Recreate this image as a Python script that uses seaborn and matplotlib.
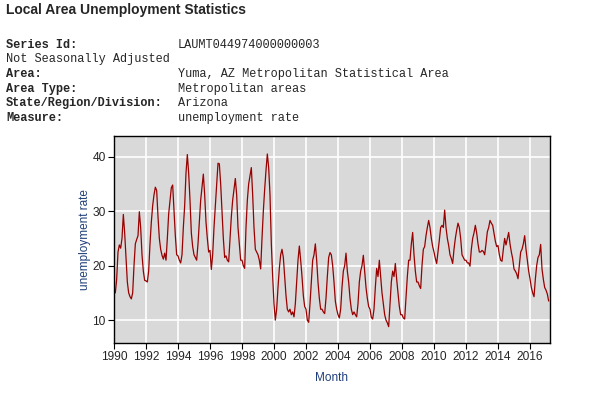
import numpy as np
import pandas as pd
import matplotlib
matplotlib.use("Agg")
import matplotlib.pyplot as plt
import seaborn as sns

# monthly unemployment rate, Yuma AZ MSA
rate_1990s = [
    15.2, 15.0, 17.5, 22.5, 23.8, 23.2, 25.0, 29.4, 26.0, 21.5, 17.0, 15.0,
    14.3, 13.9, 15.0, 20.0, 24.0, 24.8, 25.5, 29.9, 27.0, 22.0, 19.0, 17.3,
    17.2, 17.0, 19.0, 24.0, 28.0, 31.0, 33.0, 34.4, 33.8, 29.0, 25.0, 23.0,
    21.9, 21.2, 22.3, 21.0, 25.0, 29.5, 32.0, 34.3, 34.8, 30.0, 25.5, 22.0,
    21.8, 21.0, 20.5, 22.0, 27.0, 31.0, 37.0, 40.4, 37.0, 32.0, 26.0, 23.5,
    22.0, 21.5, 21.0, 24.0, 28.0, 32.0, 34.5, 36.8, 33.0, 28.0, 25.0, 22.5,
    22.8, 19.3, 22.0, 27.0, 31.0, 35.0, 38.8, 38.7, 35.0, 30.0, 25.0, 21.5,
    21.8, 21.0, 20.7, 25.0, 29.0, 32.0, 34.0, 36.0, 33.0, 27.0, 24.0, 21.0,
    21.0, 20.0, 19.5, 27.0, 32.0, 35.0, 36.5, 38.0, 33.0, 27.0, 23.0, 22.5,
    22.0, 21.0, 19.4, 25.0, 30.0, 34.0, 37.5, 40.5, 38.0, 33.0, 24.0, 18.0,
]
rate_2000s = [
    13.0, 10.0, 12.0, 16.0, 19.5, 22.0, 23.0, 21.5, 18.0, 14.5, 12.0, 11.5,
    12.0, 11.0, 11.5, 10.6, 13.0, 17.0, 21.0, 23.6, 21.0, 18.0, 14.5, 12.5,
    12.0, 10.0, 9.6, 13.0, 17.0, 21.0, 22.0, 24.0, 21.0, 17.0, 14.0, 12.0,
    12.0, 11.5, 11.2, 14.0, 18.0, 21.5, 22.4, 22.0, 20.0, 17.0, 13.5, 12.0,
    11.0, 10.4, 12.0, 16.0, 19.0, 20.0, 22.3, 19.0, 17.0, 14.0, 12.0, 11.0,
    11.5, 11.0, 10.6, 13.0, 17.0, 19.0, 20.0, 21.9, 19.0, 16.0, 14.0, 12.5,
    12.0, 10.5, 10.2, 12.0, 16.0, 19.5, 18.0, 21.0, 18.0, 15.0, 13.0, 11.0,
    10.0, 9.5, 8.8, 13.0, 17.0, 19.0, 18.0, 20.4, 17.5, 15.0, 12.5, 11.0,
    11.0, 10.4, 10.2, 14.0, 18.0, 21.0, 21.0, 24.0, 26.1, 22.0, 19.0, 17.0,
    17.0, 16.3, 15.8, 20.0, 23.0, 23.5, 25.5, 27.0, 28.3, 27.0, 25.0, 23.5,
]
rate_2010s = [
    22.5, 21.3, 20.4, 22.5, 24.7, 27.0, 27.4, 27.0, 30.2, 27.0, 25.0, 23.7,
    22.0, 21.3, 20.4, 23.0, 25.0, 26.5, 27.8, 27.0, 25.0, 22.0, 21.5, 21.0,
    21.0, 20.5, 20.5, 19.9, 23.0, 25.0, 26.0, 27.4, 26.0, 24.0, 22.5, 22.5,
    22.8, 22.6, 22.0, 24.0, 26.2, 27.0, 28.3, 27.8, 27.4, 26.0, 24.5, 23.5,
    23.7, 22.0, 21.0, 20.8, 23.0, 25.0, 23.8, 25.0, 26.1, 24.0, 22.5, 21.3,
    19.4, 19.0, 18.5, 17.6, 20.0, 22.5, 23.0, 24.0, 25.5, 23.0, 21.0, 19.0,
    17.6, 16.0, 15.0, 14.3, 17.5, 20.0, 21.5, 22.0, 23.9, 19.4, 17.5, 16.0,
    15.5, 14.8, 13.5,
]

title = "Local Area Unemployment Statistics"
info_labels = ["Series Id:", "Not Seasonally Adjusted", "Area:", "Area Type:",
               "State/Region/Division:", "Measure:"]
info_values = ["LAUMT044974000000003", "", "Yuma, AZ Metropolitan Statistical Area",
               "Metropolitan areas", "Arizona", "unemployment rate"]
year_ticks = list(range(1990, 2017, 2))

rates = rate_1990s + rate_2000s + rate_2010s
df = pd.DataFrame({"month": 1990 + np.arange(len(rates)) / 12.0, "rate": rates})

sns.set_style("whitegrid", {"axes.facecolor": "#d9d9d9", "grid.color": "white",
                            "axes.edgecolor": "black"})
plt.rcParams["font.family"] = ["Liberation Sans", "DejaVu Sans"]

W, H = 595, 396
fig = plt.figure(figsize=(W / 100, H / 100), dpi=100)
ax = fig.add_axes([114 / W, 1 - 343 / H, (550 - 114) / W, (343 - 136) / H])

sns.lineplot(data=df, x="month", y="rate", ax=ax, color="#990000", linewidth=0.9)

ax.set_xlim(1990, 2017.25)
ax.set_ylim(5.8, 43.8)
ax.set_xticks(year_ticks)
ax.set_yticks([10, 20, 30, 40])
ax.grid(True, color="white", linewidth=1.2)
for s in ax.spines.values():
    s.set_linewidth(1.0)
    s.set_color("black")
ax.tick_params(axis="both", direction="out", length=4, width=0.8, color="black",
               labelsize=8.6, pad=2, left=True, bottom=True)
ax.set_xlabel("Month", color="#1f3f7a", fontsize=8.5, labelpad=6)
ax.set_ylabel("unemployment rate", color="#1f3f7a", fontsize=8.5, labelpad=1)

# header text
fig.text(6 / W, 1 - 10 / H, title, fontsize=10, fontweight="bold", va="center")
line_y = [45, 59.3, 74, 89, 103.3, 118.3]
for lab, val, y in zip(info_labels, info_values, line_y):
    weight = "normal" if lab.startswith("Not") else "bold"
    fig.text(6 / W, 1 - y / H, lab, family="Liberation Mono", fontsize=8.55,
             fontweight=weight, va="center")
    if val:
        fig.text(177.5 / W, 1 - y / H, val, family="Liberation Mono", fontsize=8.55,
                 va="center")

fig.savefig("out.png", dpi=100)
